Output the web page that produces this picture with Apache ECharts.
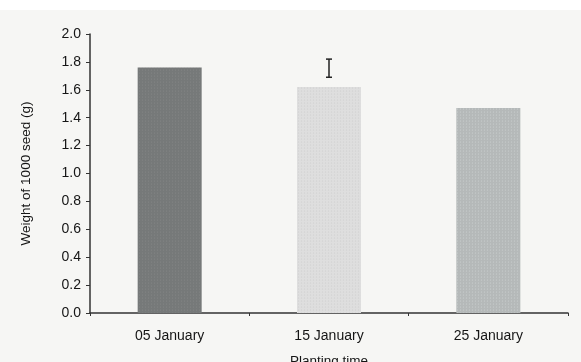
<!DOCTYPE html>
<html>
<head>
<meta charset="utf-8">
<script src="https://cdn.jsdelivr.net/npm/echarts@6/dist/echarts.min.js"></script>
<style>html,body{margin:0;padding:0;background:#fff}#c{width:581px;height:362px}</style>
</head>
<body>
<div id="c"></div>
<script>
var categories = ['05 January', '15 January', '25 January'];
var weights = [1.76, 1.62, 1.47];
var errLow = [null, 1.69, null];
var errHigh = [null, 1.82, null];
var yTicks = ['0.0','0.2','0.4','0.6','0.8','1.0','1.2','1.4','1.6','1.8','2.0'];
var barColors = ['#767979', '#dedede', '#b5b9b9'];
var decalColors = ['rgba(150,150,150,0.55)', 'rgba(200,200,200,0.7)', 'rgba(220,225,225,0.6)'];

var chart = echarts.init(document.getElementById('c'), null, {renderer: 'canvas'});
var barData = weights.map(function (v, i) {
  return {
    value: v,
    itemStyle: {
      color: barColors[i],
      decal: {symbol: 'circle', symbolSize: 0.6, dashArrayX: [3, 0], dashArrayY: [2, 1], color: decalColors[i], rotation: 0}
    }
  };
});
var errData = [];
categories.forEach(function (c, i) {
  if (errLow[i] != null) errData.push([i, errLow[i], errHigh[i]]);
});
var font = 'Liberation Sans';
chart.setOption({
  backgroundColor: '#f6f6f4',
  animation: false,
  graphic: [{type: 'rect', left: 0, top: 0, shape: {width: 581, height: 10}, style: {fill: '#ffffff'}, z: -1}],
  grid: {left: 90, right: 13, top: 34, bottom: 49, containLabel: false, outerBoundsMode: 'none'},
  xAxis: {
    type: 'category',
    data: categories,
    name: 'Planting time',
    nameLocation: 'middle',
    nameGap: 41,
    nameTextStyle: {fontFamily: font, fontSize: 13.5, color: '#151515'},
    axisLine: {lineStyle: {color: '#333', width: 1.5}},
    axisTick: {show: true, length: 3, inside: false, lineStyle: {color: '#333'}},
    axisLabel: {fontFamily: font, fontSize: 14, color: '#151515', margin: 16}
  },
  yAxis: {
    type: 'value',
    min: 0, max: 2, interval: 0.2,
    name: 'Weight of 1000 seed (g)',
    nameLocation: 'middle',
    nameGap: 57,
    nameTextStyle: {fontFamily: font, fontSize: 13.5, color: '#151515'},
    splitLine: {show: false},
    axisLine: {show: true, lineStyle: {color: '#333', width: 1.5}},
    axisTick: {show: true, length: 4, lineStyle: {color: '#333'}},
    axisLabel: {fontFamily: font, fontSize: 14, color: '#151515', margin: 9,
      formatter: function (v) { return yTicks[Math.round(v / 0.2)]; }}
  },
  series: [
    {type: 'bar', data: barData, barWidth: 64},
    {
      type: 'custom',
      data: errData,
      z: 10,
      renderItem: function (params, api) {
        var x = api.value(0);
        var lo = api.coord([x, api.value(1)]);
        var hi = api.coord([x, api.value(2)]);
        var cw = 3;
        var st = {stroke: '#222', lineWidth: 1.5};
        return {type: 'group', children: [
          {type: 'line', shape: {x1: lo[0], y1: lo[1], x2: hi[0], y2: hi[1]}, style: st},
          {type: 'line', shape: {x1: lo[0] - cw, y1: lo[1], x2: lo[0] + cw, y2: lo[1]}, style: st},
          {type: 'line', shape: {x1: hi[0] - cw, y1: hi[1], x2: hi[0] + cw, y2: hi[1]}, style: st}
        ]};
      }
    }
  ]
});
</script>
</body>
</html>
